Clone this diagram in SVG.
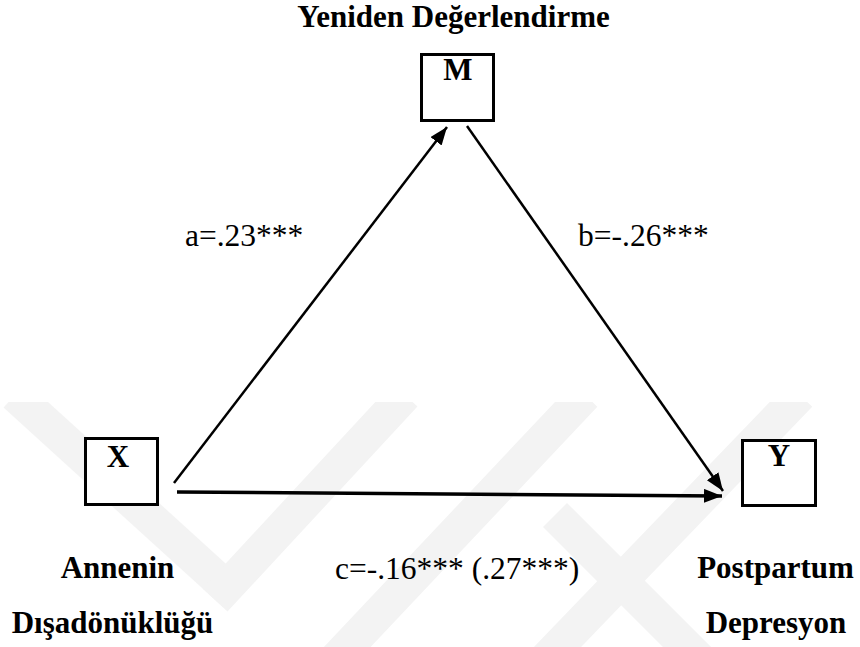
<svg xmlns="http://www.w3.org/2000/svg" width="860" height="647" viewBox="0 0 860 647">
  <defs>
    <marker id="arrow" markerUnits="userSpaceOnUse" markerWidth="20" markerHeight="16" refX="18" refY="7" orient="auto">
      <path d="M0,0 L18,7 L0,14 z" fill="#000000"/>
    </marker>
    <clipPath id="wmclip">
      <rect x="0" y="402" width="860" height="245"/>
    </clipPath>
  </defs>
  <rect x="0" y="0" width="860" height="647" fill="#ffffff"/>

  <g id="watermark" clip-path="url(#wmclip)" stroke="#f3f3f3" stroke-width="34" fill="none">
    <line x1="15" y1="395" x2="235" y2="595"/>
    <line x1="405" y1="395" x2="215" y2="600"/>
    <line x1="585" y1="395" x2="335" y2="660"/>
    <line x1="800" y1="395" x2="545" y2="660"/>
    <line x1="555" y1="515" x2="700" y2="660"/>
  </g>

  <text x="453.5" y="27" font-family="Liberation Serif" font-weight="bold" font-size="31" text-anchor="middle">Yeniden Değerlendirme</text>

  <g id="connectors" stroke="#000000" fill="none">
    <line x1="174" y1="483" x2="447" y2="127" stroke-width="2.5" marker-end="url(#arrow)"/>
    <line x1="467" y1="126" x2="723" y2="491" stroke-width="2.5" marker-end="url(#arrow)"/>
    <line x1="177" y1="492" x2="722" y2="496" stroke-width="3.5" marker-end="url(#arrow)"/>
  </g>
  <g id="edge-labels">
    <text x="185" y="246" font-family="Liberation Serif" font-size="31.5">a=.23***</text>
    <text x="578" y="246" font-family="Liberation Serif" font-size="31.5">b=-.26***</text>
    <text x="335" y="579" font-family="Liberation Serif" font-size="31.5">c=-.16*** (.27***)</text>
  </g>

  <g id="node-M">
    <rect x="421.5" y="54.5" width="72" height="66" fill="#ffffff" stroke="#000000" stroke-width="3"/>
    <text x="458" y="80" font-family="Liberation Serif" font-weight="bold" font-size="31" text-anchor="middle">M</text>
  </g>

  <g id="node-X">
    <rect x="85.5" y="438.5" width="72" height="66" fill="#ffffff" stroke="#000000" stroke-width="3"/>
    <text x="118" y="467" font-family="Liberation Serif" font-weight="bold" font-size="31" text-anchor="middle">X</text>
    <text x="117.5" y="578" font-family="Liberation Serif" font-weight="bold" font-size="31" text-anchor="middle">Annenin</text>
    <text x="112.5" y="633" font-family="Liberation Serif" font-weight="bold" font-size="31" text-anchor="middle">Dışadönüklüğü</text>
  </g>

  <g id="node-Y">
    <rect x="742.5" y="440.5" width="73" height="65" fill="#ffffff" stroke="#000000" stroke-width="3"/>
    <text x="779" y="466" font-family="Liberation Serif" font-weight="bold" font-size="31" text-anchor="middle">Y</text>
    <text x="775.5" y="578" font-family="Liberation Serif" font-weight="bold" font-size="31" text-anchor="middle">Postpartum</text>
    <text x="776" y="633" font-family="Liberation Serif" font-weight="bold" font-size="31" text-anchor="middle">Depresyon</text>
  </g>
</svg>
